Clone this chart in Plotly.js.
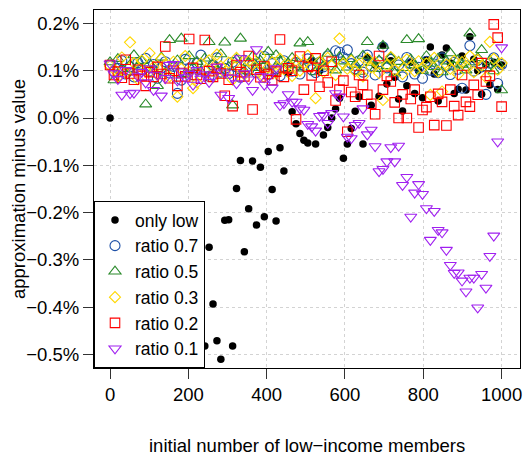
<!DOCTYPE html>
<html>
<head>
<meta charset="utf-8">
<script src="https://cdn.plot.ly/plotly-3.0.1.min.js"></script>
<style>html,body{margin:0;padding:0;background:#fff;}#chart{width:526px;height:456px;}</style>
</head>
<body>
<div id="chart"></div>
<script>
// x: initial number of low-income members (100 values, 0..1000)
const xVals = [0,10,20,30,40,51,61,71,81,91,101,111,121,131,141,152,162,172,182,192,
202,212,222,232,242,253,263,273,283,293,303,313,323,333,343,354,364,374,384,394,
404,414,424,434,444,455,465,475,485,495,505,515,525,535,545,556,566,576,586,596,
606,616,626,636,646,657,667,677,687,697,707,717,727,737,747,758,768,778,788,798,
808,818,828,838,848,859,869,879,889,899,909,919,929,939,949,960,970,980,990,1000];

// values in percent (approximation minus value); null = off the visible range
const onlyLow = [0.000,null,null,null,null,null,null,null,null,null,
null,null,null,null,null,null,null,null,null,null,
null,null,null,null,-0.482,-0.273,-0.393,-0.471,-0.510,-0.216,
-0.215,-0.482,-0.149,-0.090,-0.283,-0.192,-0.091,-0.226,-0.104,-0.209,
-0.071,-0.151,-0.218,-0.063,-0.112,0.095,0.013,-0.012,-0.033,-0.047,
-0.053,0.122,-0.055,0.100,-0.036,-0.020,0.000,0.019,0.042,-0.085,
-0.055,-0.022,0.014,0.045,-0.055,0.128,0.027,0.112,0.046,0.153,
0.072,0.121,0.086,0.040,0.015,0.068,0.118,0.052,0.100,0.043,
0.123,0.150,0.093,0.036,0.133,0.148,0.116,0.052,0.061,0.131,
0.059,0.172,0.124,0.100,0.050,0.113,0.070,0.118,0.060,0.112];

const ratio07 = [0.112,0.098,0.105,0.121,0.093,0.108,0.087,0.117,0.102,0.126,
0.099,0.113,0.084,0.106,0.119,0.095,0.109,0.052,0.080,0.124,
0.103,0.091,0.116,0.133,0.100,0.088,0.112,0.127,0.097,0.105,
0.094,0.118,0.108,0.086,0.122,0.101,0.113,0.096,0.110,0.130,
0.092,0.115,0.104,0.089,0.121,0.107,0.099,0.117,0.093,0.111,
0.125,0.102,0.096,0.118,0.108,0.131,0.112,0.142,0.139,0.128,
0.144,0.115,0.104,0.121,0.097,0.133,0.110,0.091,0.119,0.150,
0.106,0.124,0.098,0.112,0.087,0.128,0.115,0.093,0.107,0.084,
0.120,0.101,0.114,0.096,0.127,0.109,0.092,0.118,0.103,0.063,
0.111,0.153,0.099,0.122,0.108,0.050,0.116,0.127,0.073,0.113];

const ratio05 = [0.118,0.080,0.125,0.104,0.097,0.112,0.133,0.109,0.121,0.029,
0.115,0.102,0.068,0.128,0.096,0.165,0.110,0.122,0.168,0.093,
0.131,0.107,0.119,0.098,0.126,0.161,0.114,0.101,0.135,0.160,
0.108,0.027,0.124,0.168,0.099,0.117,0.130,0.106,0.121,0.111,
0.140,0.095,0.133,0.120,0.103,0.116,0.127,0.112,0.158,0.105,
0.161,0.123,0.097,0.118,0.109,0.136,0.114,0.101,0.129,0.120,
0.107,0.125,0.113,0.098,0.132,0.161,0.117,0.104,0.122,0.153,
0.110,0.128,0.095,0.119,0.106,0.165,0.124,0.112,0.167,0.100,
0.131,0.115,0.108,0.126,0.097,0.120,0.137,0.109,0.123,0.113,
0.101,0.179,0.118,0.127,0.144,0.106,0.121,0.099,0.115,0.059];

const ratio03 = [0.110,0.103,0.087,0.128,0.095,0.160,0.116,0.082,0.121,0.099,
0.137,0.108,0.091,0.125,0.113,0.088,0.119,0.045,0.104,0.131,
0.097,0.063,0.075,0.115,0.100,0.122,0.086,0.134,0.109,0.095,
0.117,0.081,0.127,0.104,0.092,0.120,0.113,0.098,0.131,0.086,
0.107,0.118,0.094,0.125,0.103,0.111,0.089,0.122,0.100,0.116,
0.132,0.108,0.042,0.119,0.097,0.127,0.110,0.091,0.168,0.115,
0.104,0.121,0.099,0.113,0.088,0.126,0.107,0.118,0.095,0.038,
0.112,0.129,0.101,0.117,0.093,0.124,0.108,0.099,0.120,0.106,
0.115,0.049,0.127,0.098,0.056,0.113,0.104,0.121,0.092,0.118,
0.109,0.131,0.097,0.123,0.111,0.086,0.161,0.125,0.102,0.116];

const ratio02 = [0.112,0.091,0.098,0.085,0.123,0.094,0.081,0.102,0.089,0.068,
0.097,0.087,0.108,0.093,0.151,0.084,0.100,0.068,0.095,0.088,
0.167,0.106,0.091,0.083,0.165,0.099,0.087,0.104,0.094,0.047,
0.081,0.025,0.112,0.097,0.088,0.131,0.018,0.102,0.086,0.109,
0.093,0.080,0.098,0.166,0.087,0.105,0.100,-0.003,0.130,0.060,
0.108,0.090,0.126,0.066,0.100,0.075,0.119,0.037,0.060,0.079,
-0.029,0.055,0.045,0.091,0.070,0.049,0.030,0.008,0.131,0.060,
0.089,0.077,0.033,0.000,0.050,0.000,0.040,0.060,-0.020,0.017,
0.023,0.045,-0.015,0.051,0.034,-0.016,0.060,0.025,0.006,0.091,
0.034,0.024,0.070,0.049,0.116,0.077,0.089,0.198,0.170,0.024];

const ratio01 = [0.115,0.094,0.082,0.049,0.101,0.052,0.053,0.088,0.097,0.075,
0.105,0.059,0.091,0.047,0.084,0.112,0.114,0.079,0.098,0.086,
0.093,0.070,0.101,0.083,0.092,0.076,0.088,0.108,0.049,0.096,
0.042,0.085,0.073,0.126,0.094,0.081,0.059,0.145,0.088,0.070,
0.087,0.064,0.105,0.027,0.031,0.050,0.034,0.034,0.020,0.017,
-0.013,-0.018,-0.027,0.004,0.006,-0.011,0.010,0.052,0.045,0.003,
-0.040,-0.043,-0.015,-0.011,0.020,-0.035,-0.025,-0.060,-0.113,-0.108,
-0.092,-0.062,-0.092,-0.059,-0.142,-0.125,-0.209,-0.158,-0.140,-0.161,
-0.191,-0.258,-0.197,-0.237,-0.242,-0.279,-0.311,-0.328,-0.327,-0.344,
-0.367,-0.338,-0.338,-0.401,-0.330,-0.359,-0.292,-0.249,-0.050,0.149];

const seriesNames = ["only low","ratio 0.7","ratio 0.5","ratio 0.3","ratio 0.2","ratio 0.1"];
const xTickVals = [0,200,400,600,800,1000];
const yTickVals = [-0.5,-0.4,-0.3,-0.2,-0.1,0.0,0.1,0.2];
const yTickText = ["\u22120.5%","\u22120.4%","\u22120.3%","\u22120.2%","\u22120.1%","0.0%","0.1%","0.2%"];

const FONT = "Liberation Sans, Arial, Helvetica, sans-serif";
const styles = [
  {symbol:"circle", size:7.5, color:"#000000", fill:true},
  {symbol:"circle-open", size:10, color:"#1d4fa6"},
  {symbol:"triangle-up-open", size:10.5, color:"#2a8a2a"},
  {symbol:"diamond-open", size:8.5, color:"#ffd700"},
  {symbol:"square-open", size:9.5, color:"#ff0000"},
  {symbol:"triangle-down-open", size:10.5, color:"#a020f0"}
];
const ys = [onlyLow, ratio07, ratio05, ratio03, ratio02, ratio01];

const traces = ys.map((y, k) => ({
  type: "scatter",
  mode: "markers",
  name: seriesNames[k],
  x: xVals,
  y: y,
  cliponaxis: true,
  marker: {
    symbol: styles[k].symbol,
    size: styles[k].size,
    color: styles[k].color,
    line: {color: styles[k].color, width: styles[k].fill ? 0 : 1.1}
  },
  hoverinfo: "skip"
}));

const layout = {
  width: 526, height: 456,
  margin: {l: 94, r: 6, t: 10, b: 88},
  paper_bgcolor: "#ffffff",
  plot_bgcolor: "#ffffff",
  font: {family: FONT, size: 18, color: "#000000"},
  showlegend: true,
  legend: {
    x: 0, y: 0, xanchor: "left", yanchor: "bottom",
    bgcolor: "#ffffff", bordercolor: "#000000", borderwidth: 1,
    font: {family: FONT, size: 17.5, color: "#000000"},
    tracegroupgap: 0
  },
  xaxis: {
    range: [-41, 1047],
    tickvals: xTickVals,
    ticktext: xTickVals.map(String),
    ticks: "outside", ticklen: 10, tickwidth: 1, tickcolor: "#333333",
    showline: true, mirror: true, linecolor: "#000000", linewidth: 1,
    showgrid: true, gridcolor: "#d3d3d3", griddash: "dot", gridwidth: 1,
    zeroline: false,
    tickfont: {family: FONT, size: 18.5, color: "#000000"}
  },
  yaxis: {
    range: [-0.5285, 0.2283],
    tickvals: yTickVals,
    ticktext: yTickText,
    ticks: "outside", ticklen: 10, tickwidth: 1, tickcolor: "#333333",
    showline: true, mirror: true, linecolor: "#000000", linewidth: 1,
    showgrid: true, gridcolor: "#d3d3d3", griddash: "dot", gridwidth: 1,
    zeroline: false,
    tickfont: {family: FONT, size: 18.5, color: "#000000"}
  },
  annotations: [
    {text: "initial number of low\u2212income members", xref: "paper", yref: "paper",
     x: 0.5, y: 0, xanchor: "center", yanchor: "middle", yshift: -77, showarrow: false,
     font: {family: FONT, size: 18.5, color: "#000000"}},
    {text: "approximation minus value", xref: "paper", yref: "paper",
     x: 0, y: 0.5, xanchor: "center", yanchor: "middle", xshift: -76, textangle: -90, showarrow: false,
     font: {family: FONT, size: 18.5, color: "#000000"}}
  ]
};

Plotly.newPlot("chart", traces, layout, {displayModeBar: false, staticPlot: true});
</script>
</body>
</html>
